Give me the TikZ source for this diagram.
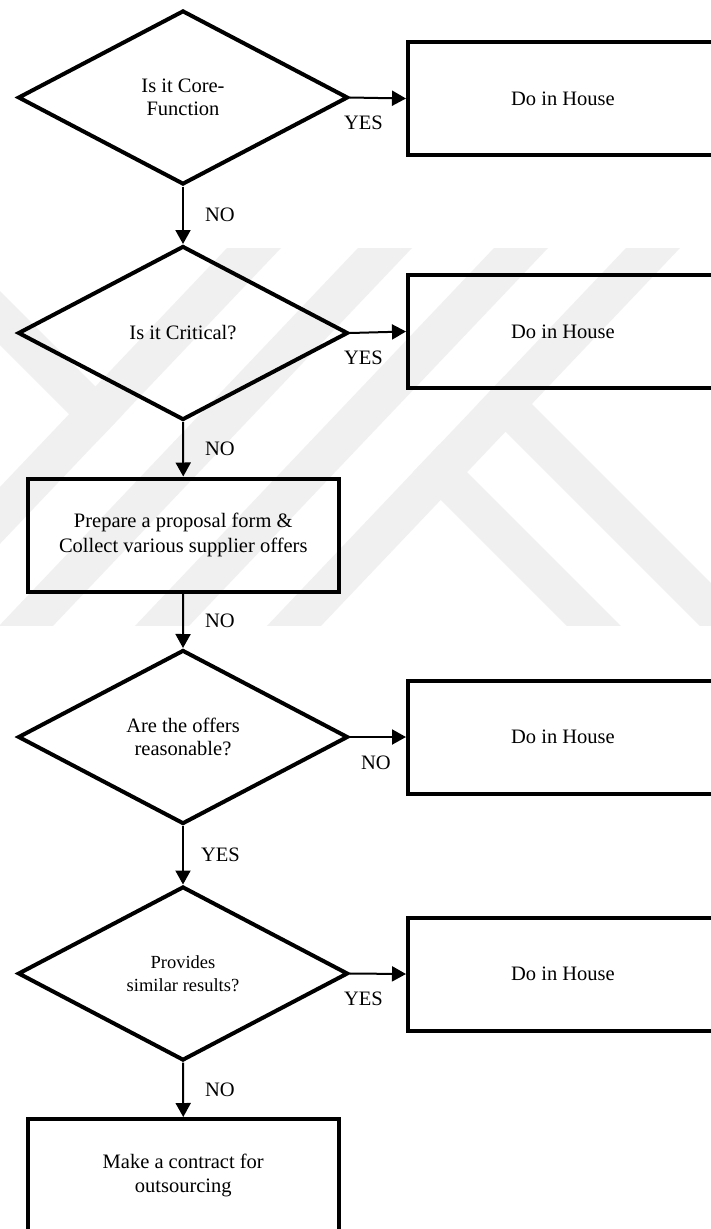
\documentclass[tikz,border=0pt]{standalone}
\usepackage{fontspec}
\setmainfont{Liberation Serif}
\usetikzlibrary{shapes.geometric,arrows.meta,positioning}

\definecolor{wmgray}{gray}{0.94}

\tikzset{
  decision/.style={draw, diamond, line width=4pt, minimum width=330pt, minimum height=174pt,
    inner sep=0pt, align=center, font=\fontsize{20.5}{23.5}\selectfont},
  task/.style={draw, rectangle, line width=4pt, minimum width=311pt, minimum height=113pt,
    inner sep=0pt, align=center, font=\fontsize{20.5}{24.5}\selectfont},
  flow/.style={line width=2pt, -{Triangle[length=14pt,width=15pt]}},
  lab/.style={inner sep=0pt, font=\fontsize{20.5}{24}\selectfont},
  band/.style={fill=wmgray, draw=none}
}

\begin{document}
\begin{tikzpicture}[x=1pt, y=-1pt]
  \useasboundingbox (0,0) rectangle (711,1229);
  \clip (0,0) rectangle (711,1229);
  \fill[white] (0,0) rectangle (711,1229);

  % watermark
  \begin{scope}
    \clip (0,248) rectangle (711,625);
    \foreach \a in {227,358,494,626}
      \fill[band] (\a,248) -- (\a+54,248) -- (\a-307,628) -- (\a-361,628) -- cycle;
    \fill[band] (-50,241) -- (123.2,414.2) -- (96.8,441.8) -- (-50,295) -- cycle;
    \fill[band] (504.2,376.2) -- (828,700) -- (774,700) -- (477.9,403.9) -- cycle;
    \fill[band] (439.4,444.4) -- (695,700) -- (641,700) -- (413.1,472.1) -- cycle;
  \end{scope}

  % decisions
  \node[decision] (core) at (183,97.5) {Is it Core-\\Function};
  \node[decision] (crit) at (183,333) {Is it Critical?};
  \node[decision] (offer) at (183,737) {Are the offers\\reasonable?};
  \node[decision, font=\fontsize{18.5}{23}\selectfont] (simil) at (183,973.5) {Provides\\similar results?};

  % boxes
  \node[task] (prep) at (183.25,535) {Prepare a proposal form \&\\Collect various supplier offers};
  \node[task] (contr) at (183.25,1175.5) {Make a contract for\\outsourcing};
  \node[task, minimum width=310pt] (house1) at (563,98.5) {Do in House};
  \node[task, minimum width=310pt] (house2) at (563,331.5) {Do in House};
  \node[task, minimum width=310pt] (house3) at (563,737) {Do in House};
  \node[task, minimum width=310pt] (house4) at (563,974) {Do in House};

  % main line
  \draw[flow] (core.south) -- node[lab, anchor=west, xshift=21pt] {NO} (crit.north);
  \draw[flow] (crit.south) -- node[lab, anchor=west, xshift=21pt] {NO} (prep.north);
  \draw[flow] (prep.south) -- node[lab, anchor=west, xshift=21pt] {NO} (offer.north);
  \draw[flow] (offer.south) -- node[lab, anchor=west, xshift=17pt] {YES} (simil.north);
  \draw[flow] (simil.south) -- node[lab, anchor=west, xshift=21pt] {NO} (contr.north);

  % side exits
  \draw[flow] (core.east) -- node[lab, pos=0, anchor=north west, xshift=-7pt, yshift=-17pt] {YES} (house1.west);
  \draw[flow] (crit.east) -- node[lab, pos=0, anchor=north west, xshift=-7pt, yshift=-17pt] {YES} (house2.west);
  \draw[flow] (offer.east) -- node[lab, pos=0, anchor=north west, xshift=10pt, yshift=-18pt] {NO} (house3.west);
  \draw[flow] (simil.east) -- node[lab, pos=0, anchor=north west, xshift=-7pt, yshift=-17pt] {YES} (house4.west);
\end{tikzpicture}
\end{document}
